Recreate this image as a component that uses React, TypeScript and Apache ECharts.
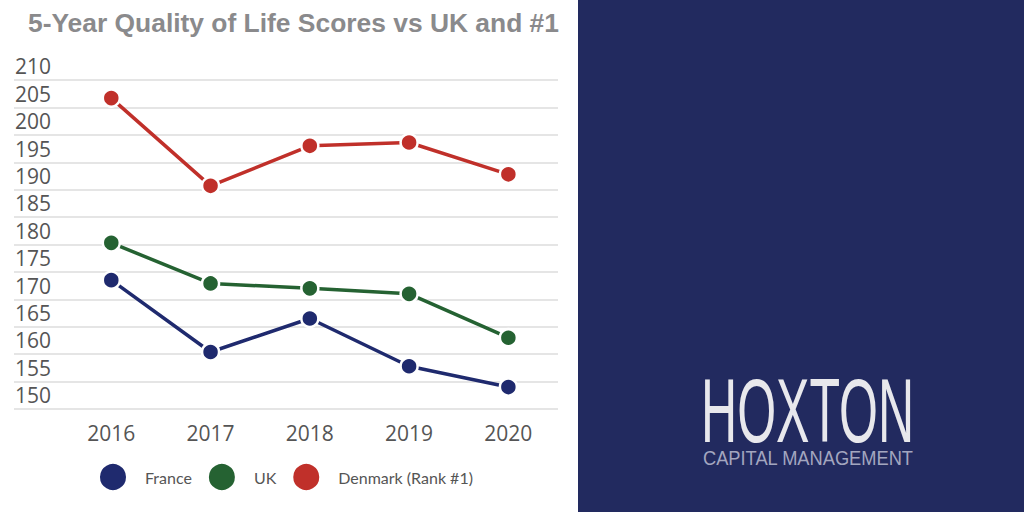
import React, { useEffect, useRef } from "react";
import * as echarts from "echarts";

const years = [2016, 2017, 2018, 2019, 2020];
const france = [171.0, 157.9, 164.0, 155.3, 151.5];
const uk = [177.8, 170.4, 169.5, 168.5, 160.5];
const denmark = [204.2, 188.2, 195.5, 196.1, 190.3];
const yTickLabels = [150, 155, 160, 165, 170, 175, 180, 185, 190, 195, 200, 205, 210];
const seriesNames = ["France", "UK", "Denmark (Rank #1)"];
const titleText = "5-Year Quality of Life Scores vs UK and #1";
const brandName = "HOXTON";
const brandSub = "CAPITAL MANAGEMENT";

const colors = ["#1f2a6e", "#256232", "#c0302a"];

export default function App() {
  const ref = useRef<HTMLDivElement>(null);

  useEffect(() => {
    if (!ref.current) return;
    const chart = echarts.init(ref.current, undefined, { renderer: "svg" });
    const gridValues = yTickLabels.map((v) => v - 2.5);
    const values = [france, uk, denmark];
    const series = seriesNames.map((name, i) => ({
      name,
      type: "line",
      data: years.map((y, j) => [y, values[i][j]]),
      symbol: "circle",
      symbolSize: 17,
      lineStyle: { color: colors[i], width: 3.5 },
      itemStyle: { color: colors[i], borderColor: "#ffffff", borderWidth: 2.5 },
      emphasis: { disabled: true },
      z: 3,
    }));

    chart.setOption({
      animation: false,
      backgroundColor: "#ffffff",
      title: {
        text: titleText,
        left: 28,
        top: 10,
        padding: 0,
        textStyle: {
          fontFamily: "Liberation Sans",
          fontWeight: "bold",
          fontSize: 26.4,
          color: "#8a8a8c",
        },
      },
      legend: {
        data: seriesNames,
        left: 98,
        top: 462,
        padding: 0,
        icon: "circle",
        itemWidth: 28,
        itemHeight: 28,
        itemGap: 15,
        textStyle: {
          fontFamily: "Lato",
          fontSize: 16,
          color: "#555555",
          padding: [0, 0, 0, 13],
        },
        selectedMode: false,
      },
      grid: { left: 14, right: 466, top: 52.6, bottom: 103, containLabel: false },
      xAxis: {
        type: "value",
        min: 2015.02,
        max: 2020.5,
        axisLine: { show: false },
        axisTick: { show: false, customValues: years },
        splitLine: { show: false },
        axisLabel: {
          customValues: years,
          formatter: (v: number) => String(v),
          margin: 13,
          fontFamily: "Open Sans",
          fontSize: 21,
          color: "#555555",
        },
      },
      yAxis: {
        type: "value",
        min: 147.5,
        max: 212.5,
        axisLine: { show: false },
        axisTick: { show: false, customValues: gridValues },
        splitLine: { show: true, lineStyle: { color: "#dcdcdc", width: 1.5 } },
        axisLabel: {
          customValues: yTickLabels,
          inside: true,
          margin: 1,
          fontFamily: "Open Sans",
          fontSize: 21,
          color: "#555555",
        },
      },
      graphic: [
        {
          type: "rect",
          shape: { x: 578, y: 0, width: 446, height: 512 },
          style: { fill: "#222a5f" },
          z: 10,
        },
        {
          type: "text",
          x: 701,
          y: 410,
          scaleX: 0.556,
          z: 11,
          style: {
            text: brandName,
            fill: "#e8e8ec",
            font: "normal 90px 'Liberation Sans'",
            verticalAlign: "middle",
            align: "left",
          },
        },
        {
          type: "text",
          x: 703,
          y: 458,
          scaleX: 0.87,
          z: 11,
          style: {
            text: brandSub,
            fill: "#a3a6bf",
            font: "normal 21px 'Liberation Sans'",
            verticalAlign: "middle",
            align: "left",
          },
        },
      ],
      series,
    });
    return () => chart.dispose();
  }, []);

  return (
    <div
      ref={ref}
      style={{ position: "fixed", left: 0, top: 0, width: 1024, height: 512 }}
    />
  );
}
